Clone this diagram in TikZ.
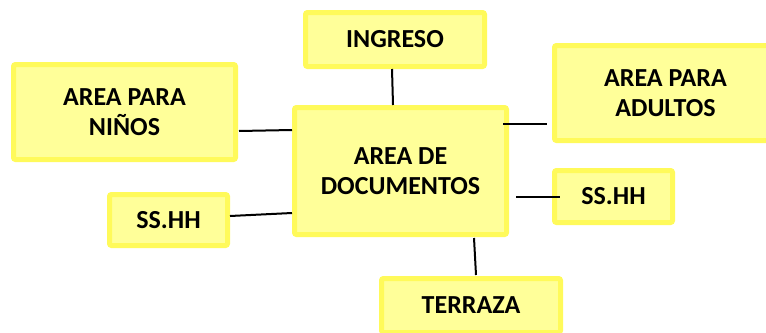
\documentclass[tikz,border=0pt]{standalone}
\usepackage{fontspec}
\setmainfont{Carlito}
\usetikzlibrary{calc}
\definecolor{yfill}{RGB}{255,255,153}
\definecolor{yborder}{RGB}{255,250,90}
\begin{document}
\begin{tikzpicture}[x=0.75pt,y=-0.75pt,
  box/.style={draw=yborder, fill=yfill, line width=3.75pt, rounded corners=1.5pt,
    inner sep=0pt, align=center, font=\fontsize{19.5}{22.5}\selectfont\bfseries},
  link/.style={line width=1.5pt, black}]
\useasboundingbox (0,0) rectangle (766,332);
\node[box, minimum width=179*0.75pt, minimum height=54*0.75pt] (ing) at (395,39.5) {INGRESO};
\node[box, minimum width=212*0.75pt, minimum height=127*0.75pt] (cen) at (400.5,171) {AREA DE\\DOCUMENTOS};
\node[box, minimum width=222*0.75pt, minimum height=95*0.75pt] (nin) at (124.5,112) {AREA PARA\\NIÑOS};
\node[box, minimum width=118*0.75pt, minimum height=51*0.75pt] (ssl) at (168.5,220) {SS.HH};
\node[box, minimum width=222*0.75pt, minimum height=95*0.75pt] (adu) at (665.5,93) {AREA PARA\\ADULTOS};
\node[box, minimum width=118*0.75pt, minimum height=52*0.75pt] (ssr) at (613.5,196.5) {SS.HH};
\node[box, minimum width=179*0.75pt, minimum height=54*0.75pt] (ter) at (471,305.5) {TERRAZA};
\draw[link] ($(ing.south)+(-3,0)$) -- ($(cen.north)+(-7.5,0)$);
\draw[link] ($(nin.east)+(1,19)$) -- ($(cen.west)+(0,-41)$);
\draw[link] ($(ssl.east)+(0,-4)$) -- ($(cen.west)+(0,42)$);
\draw[link] ($(cen.east)+(-6,-47)$) -- ($(adu.west)+(-5,31)$);
\draw[link] ($(cen.east)+(7,26)$) -- ($(ssr.west)+(8,0.5)$);
\draw[link] ($(cen.south)+(73.5,1)$) -- ($(ter.north)+(5,-1)$);
\end{tikzpicture}
\end{document}
